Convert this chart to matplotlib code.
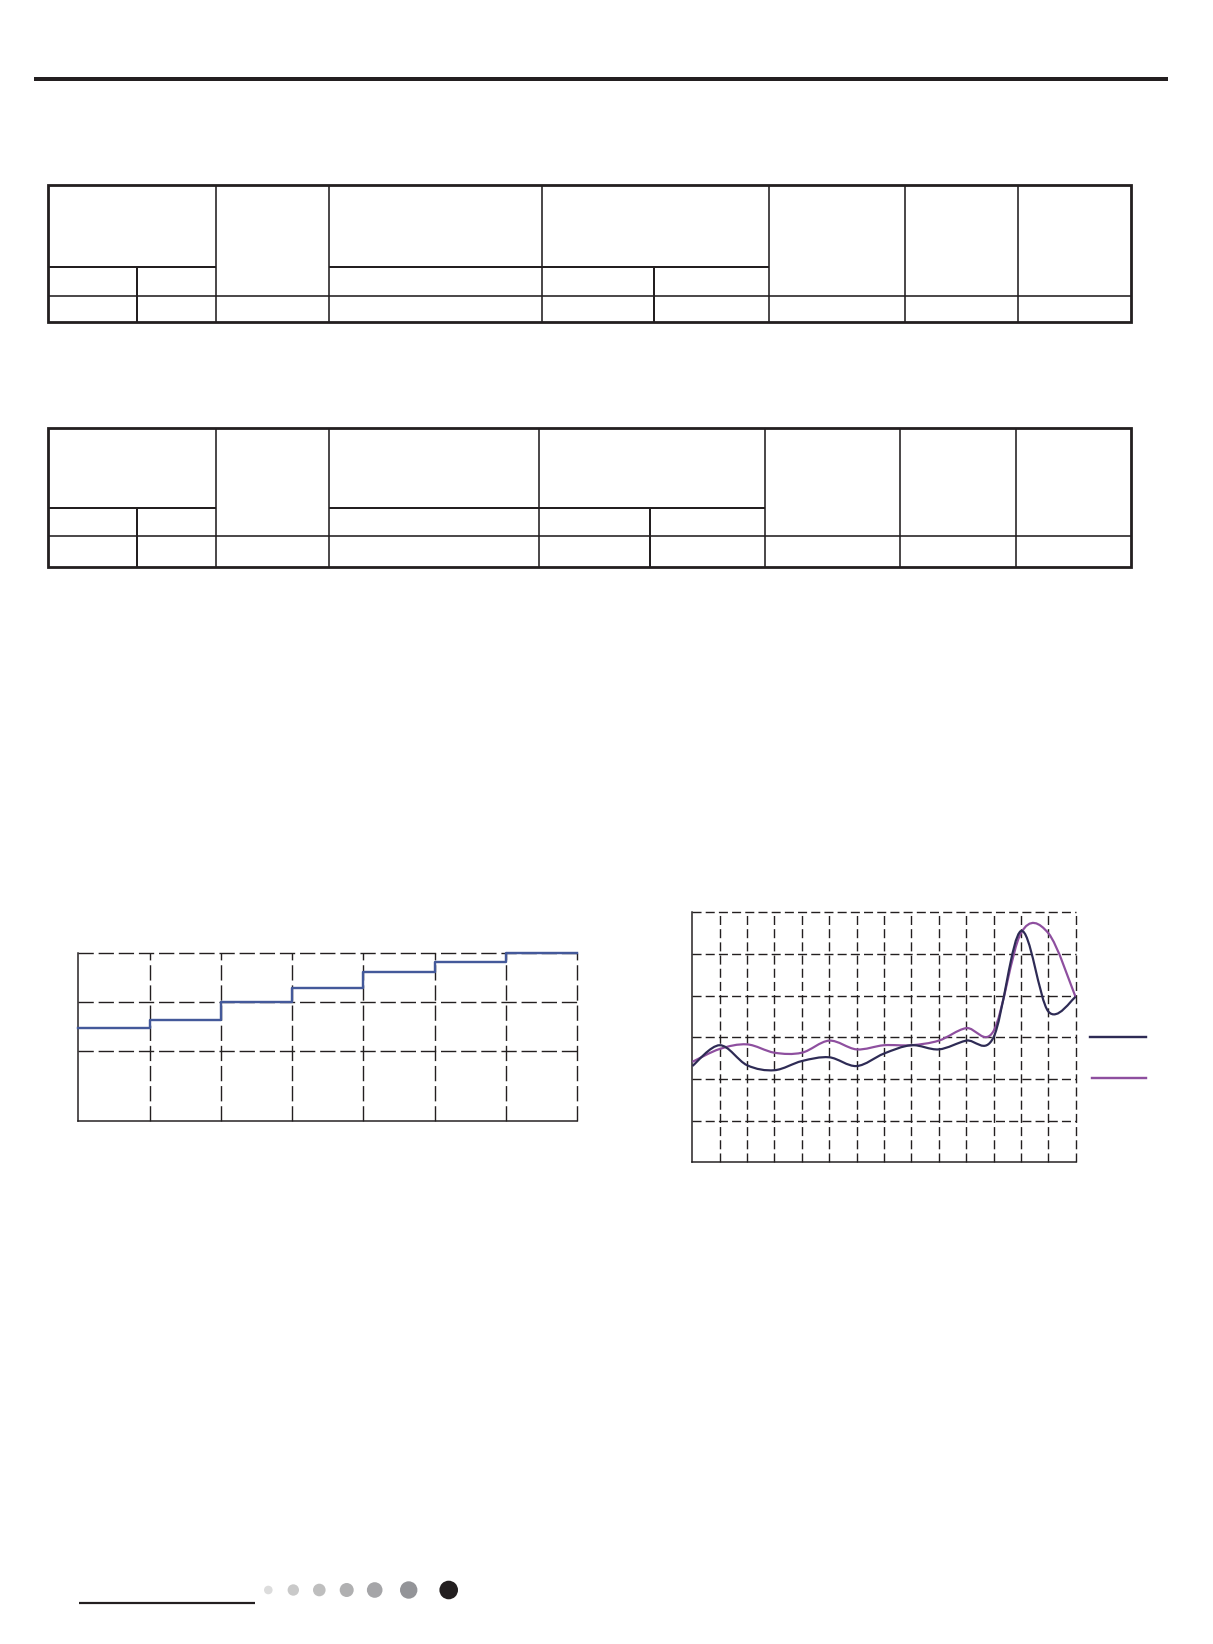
import matplotlib
matplotlib.use("Agg")
import matplotlib.pyplot as plt
from matplotlib.path import Path
from matplotlib.patches import PathPatch, Rectangle, Circle
from matplotlib.lines import Line2D

# ---------------- data ----------------
# step chart (left): 7 intervals
step_x = [0, 1, 2, 3, 4, 5, 6, 7]
step_values = [1.47, 1.63, 2.00, 2.30, 2.61, 2.83, 3.00]

# smooth curve chart (right): 15 points
curve_x = list(range(15))
series_dark = [2.31, 2.81, 2.33, 2.21, 2.43, 2.52, 2.31, 2.61, 2.81, 2.71,
               2.92, 3.00, 5.55, 3.62, 3.97]
series_purple = [2.41, 2.72, 2.83, 2.63, 2.63, 2.92, 2.71, 2.81, 2.81, 2.92,
                 3.22, 3.15, 5.50, 5.50, 3.96]

# footer dots (grey ramp)
dot_colors = ["#dcdcdc", "#c9c9c9", "#bebebe", "#b0b0b1", "#a5a5a8", "#939498", "#231f20"]

# ---------------- layout ----------------
W, H = 1213, 1644
DPI = 100
PX = 72.0 / DPI  # points per pixel
INK = "#231f20"

plt.rcParams["lines.scale_dashes"] = False
fig = plt.figure(figsize=(W / DPI, H / DPI), dpi=DPI)
fig.patch.set_facecolor("white")

page = fig.add_axes([0, 0, 1, 1])
page.set_xlim(0, W)
page.set_ylim(H, 0)
page.axis("off")


def hline(x0, x1, y, lw):
    page.plot([x0, x1], [y, y], color=INK, lw=lw * PX, solid_capstyle="butt")


def vline(x, y0, y1, lw):
    page.plot([x, x], [y0, y1], color=INK, lw=lw * PX, solid_capstyle="butt")


# top rule
page.add_patch(Rectangle((34, 77), 1168 - 34, 4, color=INK, lw=0))


def draw_table(left, right, top, hdr, sub, bottom, full_cols, low_cols, hdr_spans):
    outer = 2.8
    inner = 2.0
    thin = 1.6
    for a, b in hdr_spans:
        hline(a, b, hdr, inner)
    hline(left, right, sub, thin)
    for x in full_cols:
        vline(x, top, bottom, thin)
    for x in low_cols:
        vline(x, hdr, bottom, inner)
    page.add_patch(Rectangle((left, top), right - left, bottom - top,
                             fill=False, ec=INK, lw=outer * PX))


draw_table(47.7, 1131.3, 185, 266.7, 295.7, 321.7,
           [216.3, 329, 542.3, 769.3, 905.3, 1018.3],
           [137, 653.7],
           [(47.7, 216.3), (329, 769.3)])
draw_table(47.7, 1130.7, 428.3, 508, 536.3, 566.7,
           [216.3, 329, 539, 765.3, 900.3, 1015.7],
           [137, 650.3],
           [(47.7, 216.3), (329, 765.3)])

# footer
hline(79, 255, 1602.7, 2.2)
dot_x = [268.3, 293.3, 319.3, 346.7, 374.7, 408.7, 448.7]
dot_r = [4.3, 5.7, 6.3, 7.0, 7.8, 8.7, 9.3]
for cx, r, c in zip(dot_x, dot_r, dot_colors):
    page.add_patch(Circle((cx, 1590), r, color=c, lw=0))


def add_axes_px(x0, x1, y0, y1):
    return fig.add_axes([x0 / W, 1 - y1 / H, (x1 - x0) / W, (y1 - y0) / H])


GRID_LW = 1.4 * PX

# ---------------- step chart ----------------
ax1 = add_axes_px(78.3, 577.3, 953.3, 1121)
ax1.set_xlim(0, 7)
ax1.set_ylim(-0.42, 3)
for v in range(1, 8):
    ax1.axvline(v, color=INK, lw=GRID_LW, ls=(0, (11, 3.5)), clip_on=False)
for v in [1, 2, 3]:
    ax1.axhline(v, color=INK, lw=GRID_LW, ls=(0, (11, 3.5)), clip_on=False)
ax1.plot(step_x, step_values + [step_values[-1]], drawstyle="steps-post",
         color="#44599a", lw=2.4 * PX, zorder=3, clip_on=False)
ax1.spines["top"].set_visible(False)
ax1.spines["right"].set_visible(False)
for s in ["left", "bottom"]:
    ax1.spines[s].set_color(INK)
    ax1.spines[s].set_linewidth(1.5 * PX)
ax1.set_xticks([])
ax1.set_yticks([])


# ---------------- smooth curve chart ----------------
def smooth_path(x, y):
    n = len(x)
    verts = [(x[0], y[0])]
    codes = [Path.MOVETO]
    for i in range(n - 1):
        p0 = i - 1 if i > 0 else i
        p3 = i + 2 if i + 2 < n else i + 1
        c1 = (x[i] + (x[i + 1] - x[p0]) / 6.0, y[i] + (y[i + 1] - y[p0]) / 6.0)
        c2 = (x[i + 1] - (x[p3] - x[i]) / 6.0, y[i + 1] - (y[p3] - y[i]) / 6.0)
        verts += [c1, c2, (x[i + 1], y[i + 1])]
        codes += [Path.CURVE4] * 3
    return Path(verts, codes)


ax2 = add_axes_px(692.3, 1075.7, 912.3, 1162.3)
ax2.set_xlim(0, 14)
ax2.set_ylim(0, 6)
for v in range(1, 15):
    ax2.axvline(v, color=INK, lw=GRID_LW, ls=(0, (6.5, 3)), clip_on=False)
for v in range(1, 7):
    ax2.axhline(v, color=INK, lw=GRID_LW, ls=(0, (6.5, 3)), clip_on=False)
ax2.add_patch(PathPatch(smooth_path(curve_x, series_purple), fill=False,
                        ec="#8e4f9f", lw=2.2 * PX, zorder=3))
ax2.add_patch(PathPatch(smooth_path(curve_x, series_dark), fill=False,
                        ec="#2e2b55", lw=2.2 * PX, zorder=4))
ax2.spines["top"].set_visible(False)
ax2.spines["right"].set_visible(False)
for s in ["left", "bottom"]:
    ax2.spines[s].set_color(INK)
    ax2.spines[s].set_linewidth(1.5 * PX)
ax2.set_xticks([])
ax2.set_yticks([])

# legend keys (labels absent in reference)
page.add_line(Line2D([1090, 1146], [1037, 1037], color="#2e2b55", lw=2.4 * PX))
page.add_line(Line2D([1092, 1146], [1078, 1078], color="#8e4f9f", lw=2.4 * PX))

fig.savefig("out.png", dpi=DPI, facecolor="white")
